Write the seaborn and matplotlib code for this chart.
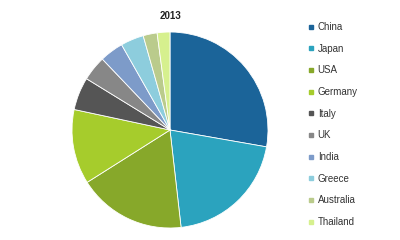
import matplotlib
matplotlib.use("Agg")
import matplotlib.pyplot as plt
import seaborn as sns
from matplotlib.lines import Line2D

sns.set_theme(style="white")
plt.rcParams['font.family'] = ['Liberation Sans', 'DejaVu Sans']

countries = ["China", "Japan", "USA", "Germany", "Italy", "UK", "India", "Greece", "Australia", "Thailand"]
shares = [27.7, 20.4, 17.8, 12.3, 5.4, 4.1, 3.9, 3.8, 2.3, 2.1]
colors = ["#1B6499", "#2BA3BE", "#87A82A", "#A6CC2C", "#555555", "#878787",
          "#7D9BC9", "#8DCDDD", "#BACB8C", "#D6F08E"]
title = "2013"

fig = plt.figure(figsize=(4, 2.4), dpi=100)
fig.patch.set_facecolor("white")
r = 98
ax = fig.add_axes([(170 - r)/400, (240 - 130 - r)/240, 2*r/400, 2*r/240])
ax.pie(shares, colors=colors, startangle=90, counterclock=False,
       wedgeprops=dict(linewidth=0.6, edgecolor="white"))
ax.set_xlim(-1, 1)
ax.set_ylim(-1, 1)
ax.set_aspect("equal")
ax.axis("off")
fig.text(170/400, 1 - 16/240, title, ha="center", va="center",
         fontsize=7, fontweight="bold", color="#222222")

handles = [Line2D([0], [0], marker="s", linestyle="", markersize=3.5,
                  markerfacecolor=c, markeredgecolor=c) for c in colors]
leg = fig.legend(handles, countries, loc="upper left",
                 bbox_to_anchor=(308/400, 1 - 22/240), frameon=False,
                 fontsize=7, labelspacing=1.2, handlelength=0.6,
                 handletextpad=0.4, borderaxespad=0, borderpad=0)
for t in leg.get_texts():
    t.set_color("#333333")

fig.savefig("out.png", dpi=100, facecolor="white")
